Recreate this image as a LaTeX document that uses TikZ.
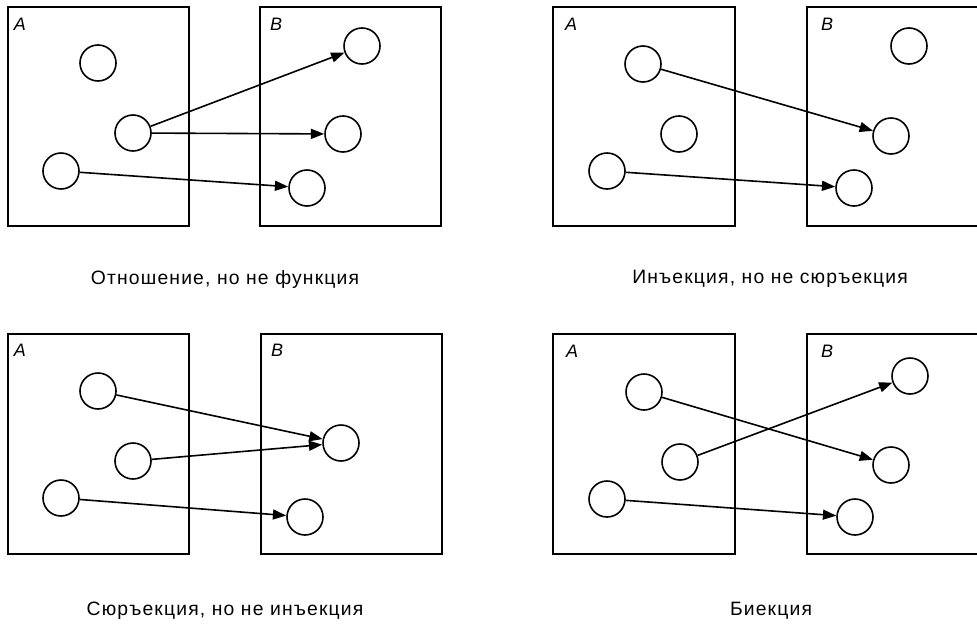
\documentclass[tikz,border=0pt]{standalone}
\usepackage{fontspec}
\setmainfont{Liberation Sans}
\usepackage{tikz}
\usetikzlibrary{arrows.meta}
\tikzset{every picture/.style={line width=1.2pt}}
\tikzset{
  elem/.style={draw,circle,inner sep=0pt,minimum size=27pt},
  setlbl/.style={anchor=center,inner sep=0.75pt,font=\fontsize{13.5}{15}\selectfont\itshape},
  caption/.style={anchor=center,inner sep=0.75pt,font=\fontsize{14.5}{17}\selectfont\addfontfeature{LetterSpace=6}},
  maps/.style={-{Triangle[length=10pt,width=7.5pt]},line width=1.2pt}
}

\begin{document}
\begin{tikzpicture}[x=0.75pt,y=0.75pt,yscale=-1]
\useasboundingbox (0,0) rectangle (977,625);
\clip (0,0) rectangle (977,625);

%Shape: Rectangle [relation A]
\draw (8,7) rectangle (189,226);
%Shape: Rectangle [relation B]
\draw (260,7) rectangle (441,226);
%Shape: Rectangle [injection A]
\draw (553,7) rectangle (735,226);
%Shape: Rectangle [injection B]
\draw (807,7) rectangle (988,226);
%Shape: Rectangle [surjection A]
\draw (8,334) rectangle (189,554);
%Shape: Rectangle [surjection B]
\draw (261,334) rectangle (442,554);
%Shape: Rectangle [bijection A]
\draw (553,334) rectangle (735,554);
%Shape: Rectangle [bijection B]
\draw (807,334) rectangle (988,554);

% Text Node
\node [setlbl] (relA) at (20,24) {A};
\node [setlbl] (relB) at (276,24) {B};
\node [setlbl] (injA) at (571,24) {A};
\node [setlbl] (injB) at (827,24) {B};
\node [setlbl] (surA) at (20,350) {A};
\node [setlbl] (surB) at (277,350) {B};
\node [setlbl] (bijA) at (572,351) {A};
\node [setlbl] (bijB) at (827,351) {B};

%Shape: Circle [relation]
\node [elem] (ra1) at (98,63) {};
\node [elem] (ra2) at (133,133) {};
\node [elem] (ra3) at (61,171) {};
\node [elem] (rb1) at (362,46) {};
\node [elem] (rb2) at (343,134) {};
\node [elem] (rb3) at (307,188) {};
%Shape: Circle [injection]
\node [elem] (ia1) at (643,64) {};
\node [elem] (ia2) at (679,134) {};
\node [elem] (ia3) at (607,171) {};
\node [elem] (ib1) at (909,46) {};
\node [elem] (ib2) at (891,136) {};
\node [elem] (ib3) at (854,188) {};
%Shape: Circle [surjection]
\node [elem] (sa1) at (98,391) {};
\node [elem] (sa2) at (133,461) {};
\node [elem] (sa3) at (61,498) {};
\node [elem] (sb1) at (341,443) {};
\node [elem] (sb2) at (305,517) {};
%Shape: Circle [bijection]
\node [elem] (ba1) at (644,392) {};
\node [elem] (ba2) at (680,462) {};
\node [elem] (ba3) at (607,499) {};
\node [elem] (bb1) at (910,376) {};
\node [elem] (bb2) at (891,465) {};
\node [elem] (bb3) at (855,517) {};

%Straight Lines [relation]
\draw [maps] (ra2) -- (rb1);
\draw [maps] (ra2) -- (rb2);
\draw [maps] (ra3) -- (rb3);
%Straight Lines [injection]
\draw [maps] (ia1) -- (ib2);
\draw [maps] (ia3) -- (ib3);
%Straight Lines [surjection]
\draw [maps] (sa1) -- (sb1);
\draw [maps] (sa2) -- (sb1);
\draw [maps] (sa3) -- (sb2);
%Straight Lines [bijection]
\draw [maps] (ba1) -- (bb2);
\draw [maps] (ba2) -- (bb1);
\draw [maps] (ba3) -- (bb3);

% Text Node
\node [caption] (relcap) at (225,279) {Отношение, но не функция};
% Text Node
\node [caption] (injcap) at (770,279) {Инъекция, но не сюръекция};
% Text Node
\node [caption] (surcap) at (225,611) {Сюръекция, но не инъекция};
% Text Node
\node [caption] (bijcap) at (771,611) {Биекция};

\end{tikzpicture}
\end{document}
